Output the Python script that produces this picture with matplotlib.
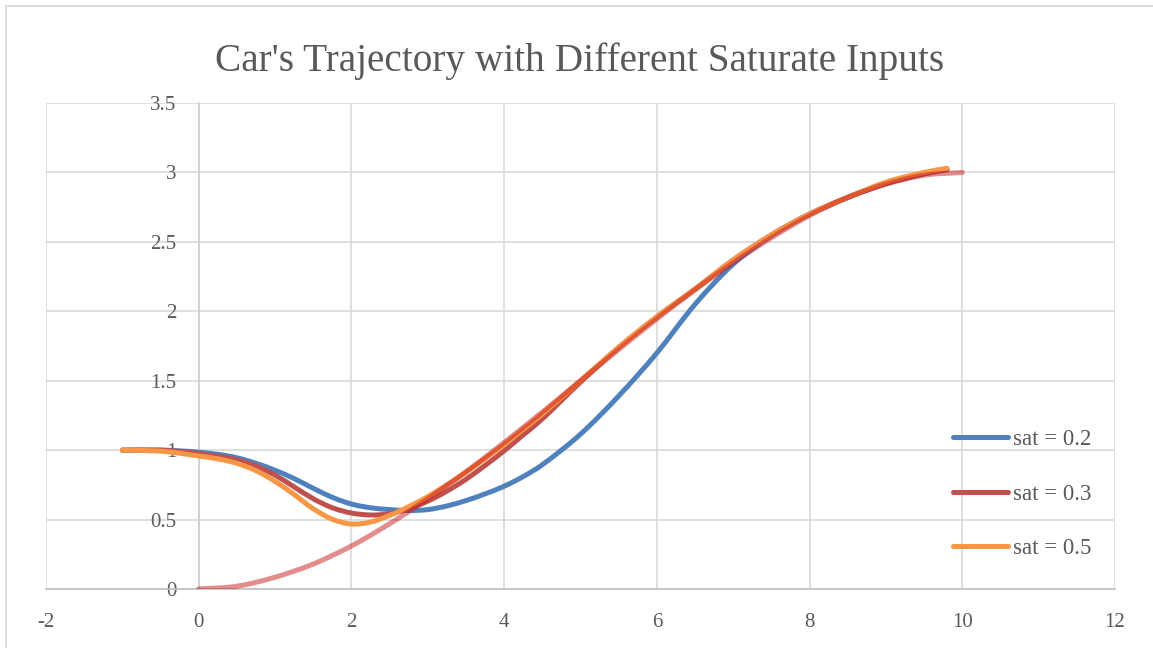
import matplotlib.pyplot as plt
from matplotlib.patches import Rectangle, PathPatch
from matplotlib.path import Path
from matplotlib.lines import Line2D

# trajectories for the three saturation limits (shared time/x samples)
x_sat = [-1, -0.5, -0.25, 0, 0.25, 0.5, 0.75, 1, 1.25, 1.5, 1.75, 2, 2.25, 2.5, 2.75, 3,
         3.25, 3.5, 3.75, 4, 4.25, 4.5, 5, 5.5, 6, 6.5, 7, 7.5, 8, 8.5, 9, 9.5, 9.8]
y_sat02 = [1.0, 1.0, 0.995, 0.985, 0.97, 0.945, 0.905, 0.855, 0.795, 0.725, 0.66, 0.612, 0.585,
           0.572, 0.565, 0.572, 0.598, 0.637, 0.685, 0.74, 0.81, 0.895, 1.115, 1.39, 1.70, 2.05,
           2.34, 2.545, 2.70, 2.82, 2.92, 2.99, 3.02]
y_sat03 = [1.0, 1.0, 0.99, 0.975, 0.955, 0.93, 0.885, 0.82, 0.735, 0.65, 0.585, 0.547, 0.533,
           0.542, 0.578, 0.633, 0.705, 0.79, 0.89, 0.995, 1.11, 1.225, 1.49, 1.74, 1.96, 2.16,
           2.37, 2.55, 2.70, 2.82, 2.92, 2.99, 3.02]
y_sat05 = [1.0, 0.993, 0.978, 0.958, 0.937, 0.905, 0.852, 0.775, 0.68, 0.578, 0.502, 0.468,
           0.482, 0.53, 0.593, 0.665, 0.75, 0.84, 0.94, 1.04, 1.15, 1.26, 1.50, 1.74, 1.96, 2.16,
           2.37, 2.55, 2.70, 2.82, 2.93, 3.0, 3.03]

# reference path
x_ref = [0, 0.5, 1, 1.5, 2, 2.5, 3, 3.5, 4, 4.5, 5, 5.5, 6, 6.5, 7, 7.5, 8, 8.5, 9, 9.5, 10]
y_ref = [0, 0.02, 0.085, 0.18, 0.31, 0.47, 0.65, 0.845, 1.055, 1.275, 1.5, 1.725, 1.945, 2.155,
         2.35, 2.53, 2.69, 2.82, 2.915, 2.98, 3.0]

labels = ['sat = 0.2', 'sat = 0.3', 'sat = 0.5']
colors = ['#4F81BD', '#C0504D', '#F79646']
x_ticks = [-2, 0, 2, 4, 6, 8, 10, 12]
y_ticks = [0, 0.5, 1, 1.5, 2, 2.5, 3, 3.5]


def smooth_path(xs, ys):
    # cubic Hermite segments between the samples (like a "smoothed line" chart)
    n = len(xs)
    slopes = []
    for i in range(n):
        a = max(i - 1, 0)
        b = min(i + 1, n - 1)
        slopes.append((ys[b] - ys[a]) / (xs[b] - xs[a]))
    verts = [(xs[0], ys[0])]
    codes = [Path.MOVETO]
    for i in range(n - 1):
        h = xs[i + 1] - xs[i]
        verts += [(xs[i] + h / 3, ys[i] + slopes[i] * h / 3),
                  (xs[i + 1] - h / 3, ys[i + 1] - slopes[i + 1] * h / 3),
                  (xs[i + 1], ys[i + 1])]
        codes += [Path.CURVE4] * 3
    return Path(verts, codes)


W, H = 1153, 648
fig = plt.figure(figsize=(W / 100, H / 100), dpi=100)
ax = fig.add_axes([46 / W, 1 - 589 / H, (1115 - 46) / W, (589 - 103) / H])

serif = ['Liberation Serif', 'DejaVu Serif']
txt = '#595959'
lw = 3.6

for ys, c in zip([y_sat02, y_sat03, y_sat05], colors):
    ax.add_patch(PathPatch(smooth_path(x_sat, ys), fill=False, edgecolor=c, lw=lw,
                           capstyle='round', joinstyle='round', zorder=3))
ax.add_patch(PathPatch(smooth_path(x_ref, y_ref), fill=False, edgecolor='#C81A1C', alpha=0.5,
                       lw=lw, capstyle='round', joinstyle='round', zorder=4))

ax.set_xlim(-2, 12)
ax.set_ylim(0, 3.5)
ax.set_xticks(x_ticks)
ax.set_yticks(y_ticks)
ax.set_xticklabels([str(t) for t in x_ticks])
ax.set_yticklabels(['0', '0.5', '1', '1.5', '2', '2.5', '3', '3.5'])
ax.grid(True, color='#D9D9D9', lw=1.2, zorder=0)
ax.set_axisbelow(True)

for s in ['top', 'right']:
    ax.spines[s].set_visible(False)
ax.spines['left'].set_position(('data', 0))
ax.spines['left'].set_color('#D0D0D0')
ax.spines['left'].set_linewidth(1.2)
ax.spines['bottom'].set_color('#BFBFBF')
ax.spines['bottom'].set_linewidth(1.2)

ax.tick_params(axis='both', length=0, labelsize=15, labelcolor=txt)
ax.tick_params(axis='x', pad=17)
ax.tick_params(axis='y', pad=16)
for lab in ax.get_xticklabels() + ax.get_yticklabels():
    lab.set_family(serif)

fig.text(580 / W, 1 - 71 / H, "Car's Trajectory with Different Saturate Inputs",
         ha='center', va='baseline', fontsize=28.3, color=txt, family=serif)

handles = [Line2D([], [], color=c, lw=lw, solid_capstyle='round') for c in colors]
leg = ax.legend(handles, labels, loc='center left',
                bbox_to_anchor=((953 - 46) / (1115 - 46), (589 - 494) / (589 - 103)),
                frameon=False, borderpad=0, borderaxespad=0, handlelength=2.4,
                handletextpad=0.2, labelspacing=1.45, prop={'family': serif, 'size': 16.5})
for t in leg.get_texts():
    t.set_color(txt)

# chart border (left and top edges show)
fig.patches.append(Rectangle((5.5 / W, -0.5), 2.0, 1 - 6.3 / H + 0.5, transform=fig.transFigure,
                             fill=False, edgecolor='#D9D9D9', lw=1.3))

fig.savefig('out.png', dpi=100)
